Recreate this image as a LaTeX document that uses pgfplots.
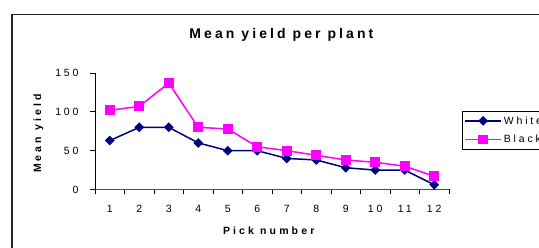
\documentclass[border=0pt]{standalone}
\usepackage{fontspec}
\setmainfont{Liberation Sans}
\newfontfamily\ftitle[LetterSpace=22]{Liberation Sans}
\newfontfamily\flab[LetterSpace=30]{Liberation Sans}
\newfontfamily\ftick[LetterSpace=27]{Liberation Sans}
\usepackage{pgfplots}
\pgfplotsset{compat=1.18}
\definecolor{navyc}{RGB}{0,0,128}
\definecolor{magc}{RGB}{255,0,255}
\begin{document}
\begin{tikzpicture}
\path[use as bounding box] (0,0) rectangle (539pt,248pt);
\clip (0,0) rectangle (539pt,248pt);
\fill[white] (0,0) rectangle (539pt,248pt);
\draw[line width=1.2pt, black!85] (12pt,233.6pt) rectangle (560pt,-10pt);
\begin{axis}[
  at={(95pt,58.5pt)}, anchor=south west,
  scale only axis, width=354pt, height=116.5pt,
  xmin=0.5, xmax=12.5, ymin=0, ymax=150,
  axis x line=bottom, axis y line=left,
  x axis line style={-, draw=black!70, line width=0.9pt},
  y axis line style={-, draw=black, line width=0.9pt},
  xtick={0.5,1.5,...,12.5}, xticklabel=\empty,
  extra x ticks={1,...,12},
  extra x tick labels={1,2,3,4,5,6,7,8,9,10,11,12},
  extra x tick style={major tick length=0pt, xticklabel style={yshift=-12pt}},
  ytick={0,50,100,150},
  major tick length=5pt,
  tick align=outside,
  tick style={black, line width=0.8pt},
  /pgf/number format/assume math mode=true,
  tick label style={font=\ftick\fontsize{10.5}{12}\selectfont},
  yticklabel style={xshift=-8pt},
  title={\ftitle\bfseries Mean yield per plant},
  title style={at={(axis description cs:0.5266,1.245)}, anchor=base, inner sep=0pt, font=\fontsize{14}{16}\selectfont},
  xlabel={\flab\bfseries Pick number},
  xlabel style={at={(axis description cs:0.4907,-0.3906)}, anchor=base, inner sep=0pt, font=\fontsize{10.5}{12}\selectfont},
  ylabel={\flab\bfseries Mean yield},
  ylabel style={at={(axis description cs:-0.1525,0.4807)}, anchor=base, inner sep=0pt, font=\fontsize{10.5}{12}\selectfont},
  legend style={at={(axis description cs:1.0367,0.6738)}, anchor=north west,
    draw=black, line width=0.8pt, fill=white,
    font=\ftick\fontsize{10.5}{12}\selectfont,
    inner xsep=2pt, inner ysep=3pt, row sep=5.4pt,
    cells={anchor=west}},
  legend image code/.code={\draw[mark repeat=2,mark phase=2,#1] plot coordinates {(0pt,0pt) (18pt,0pt) (36pt,0pt)};},
]
\addplot[color=navyc, line width=1.5pt, mark=square*, mark size=2.7pt, mark options={rotate=45, solid, fill=navyc}]
  coordinates {(1,63) (2,80) (3,80) (4,60) (5,50) (6,50) (7,40) (8,38) (9,28) (10,25) (11,25) (12,6)};
\addlegendentry{White}
\addplot[color=magc, line width=1.5pt, mark=square*, mark size=4.2pt, mark options={solid, fill=magc}]
  coordinates {(1,102) (2,107) (3,137) (4,80) (5,78) (6,55) (7,50) (8,44) (9,38) (10,35) (11,30) (12,17)};
\addlegendentry{Black}
\end{axis}
\end{tikzpicture}
\end{document}
